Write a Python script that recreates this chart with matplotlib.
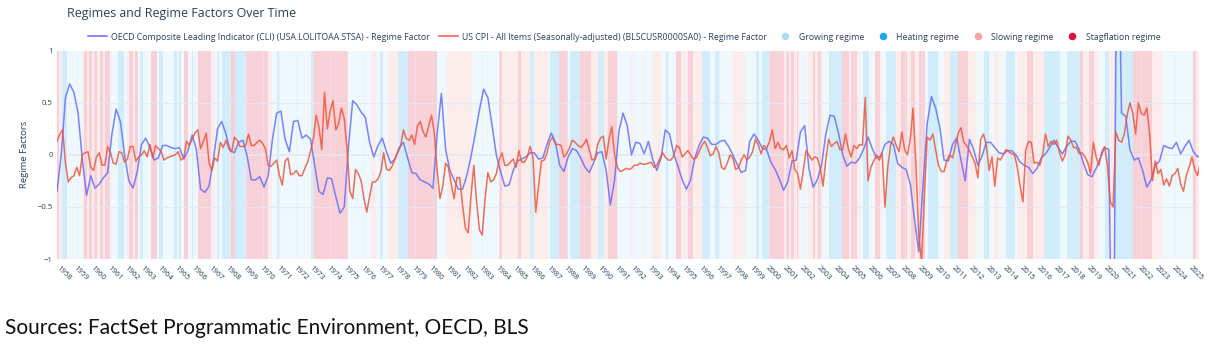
import matplotlib
matplotlib.use("Agg")
import matplotlib.pyplot as plt
from matplotlib.lines import Line2D
import numpy as np

plt.rcParams["font.family"] = ["Open Sans", "DejaVu Sans"]

# CLI regime factor, quarterly from Nov 1957
cli_values = [
    -0.35,
    0.0, 0.55, 0.68, 0.6,
    0.4, -0.05, -0.39, -0.2,
    -0.32, -0.28, -0.22, -0.17,
    0.2, 0.44, 0.32, 0.0,
    -0.25, -0.32, -0.16, 0.1,
    0.16, 0.07, -0.05, -0.03,
    0.09, 0.09, 0.07, 0.06,
    0.07, -0.04, 0.04, 0.19,
    0.05, -0.33, -0.36, -0.3,
    -0.05, 0.25, 0.32, 0.2,
    0.04, 0.02, 0.12, 0.14,
    -0.01, -0.24, -0.24, -0.21,
    -0.31, -0.2, 0.15, 0.4,
    0.42, 0.15, 0.03, 0.32,
    0.33, 0.16, 0.19, 0.15,
    -0.1, -0.35, -0.38, -0.22,
    -0.23, -0.4, -0.56, -0.5,
    0.08, 0.52, 0.48, 0.41,
    0.36, 0.12, -0.02, 0.09,
    0.16, 0.03, -0.08, -0.04,
    0.07, 0.12, -0.03, -0.17,
    -0.18, -0.24, -0.26, -0.28,
    -0.32, 0.2, 0.59, 0.05,
    -0.15, -0.24, -0.33, -0.33,
    -0.2, -0.02, 0.2, 0.43,
    0.63, 0.55, 0.28, 0.0,
    -0.16, -0.3, -0.29, -0.15,
    -0.06, -0.04, -0.02, 0.02,
    0.02, -0.04, -0.03, 0.1,
    0.21, 0.12, -0.1, -0.16,
    -0.02, 0.06, 0.04, -0.03,
    -0.12, -0.17, -0.08, 0.02,
    0.03, -0.15, -0.48, -0.24,
    0.22, 0.4, 0.28, 0.0,
    0.12, 0.11, 0.01, 0.13,
    -0.04, -0.15, -0.03, 0.24,
    0.2, 0.01, -0.11, -0.24,
    -0.33, -0.24, -0.03, 0.09,
    0.17, 0.16, 0.1, 0.1,
    0.13, 0.14, 0.08, 0.0,
    -0.09, -0.17, -0.15, 0.13,
    0.2, 0.14, 0.06, 0.05,
    -0.07, -0.14, -0.23, -0.34,
    -0.26, -0.06, -0.05, 0.22,
    0.28, -0.13, -0.31, -0.24,
    -0.1, 0.2, 0.38, 0.37,
    0.21, 0.0, -0.11, -0.07,
    -0.08, -0.03, 0.06, 0.17,
    0.06, -0.03, -0.01, 0.1,
    0.13, 0.1, -0.08, -0.12,
    -0.14, -0.28, -0.62, -0.93,
    -0.3, 0.3, 0.56, 0.45,
    0.26, -0.05, -0.06, 0.1,
    0.16, -0.05, -0.25, 0.15,
    0.05, -0.1, -0.01, 0.12,
    0.12, 0.07, 0.02, 0.01,
    0.04, 0.04, 0.0, -0.07,
    -0.1, -0.12, -0.18, -0.13,
    -0.03, 0.01, 0.07, 0.14,
    0.07, 0.01, 0.08, 0.13,
    0.13, 0.05, -0.08, -0.19,
    -0.21, -0.13, -0.03, 0.07,
    0.05, -3.0, 3.0, 0.4,
    0.37, 0.05, -0.05, -0.03,
    -0.15, -0.31, -0.24, -0.1,
    -0.06, 0.09, 0.07, 0.06,
    0.12, 0.01, 0.08, 0.14,
    0.03, -0.02, 0.0,
]

# CPI regime factor, every two months from Nov 1957
cpi_values = [
    0.13,
    0.2, 0.24, -0.08, -0.26, -0.22, -0.2,        # 1958
    -0.12, -0.2, 0.0, 0.02, 0.03, -0.12,         # 1959
    -0.15, -0.02, 0.02, -0.1, -0.1, 0.08,        # 1960
    0.02, -0.08, -0.09, 0.03, 0.02, -0.07,       # 1961
    -0.04, 0.08, 0.08, -0.06, -0.02, 0.0,        # 1962
    0.04, -0.02, 0.1, -0.03, 0.09, 0.06,         # 1963
    0.03, -0.05, -0.03, -0.02, -0.01, 0.0,       # 1964
    0.03, -0.05, -0.03, 0.13, 0.09, 0.15,        # 1965
    0.21, 0.24, 0.06, 0.13, 0.21, -0.08,         # 1966
    -0.15, -0.03, -0.06, 0.12, 0.07, 0.14,       # 1967
    0.06, 0.03, 0.17, 0.14, 0.08, 0.08,          # 1968
    0.09, 0.2, 0.09, 0.09, 0.12, 0.14,           # 1969
    0.11, 0.06, -0.1, -0.11, -0.08, -0.05,       # 1970
    -0.2, -0.29, -0.06, -0.03, -0.19, -0.18,     # 1971
    -0.15, -0.2, -0.2, -0.13, -0.07, 0.03,       # 1972
    0.15, 0.38, 0.27, 0.05, 0.6, 0.25,           # 1973
    0.42, 0.52, 0.24, 0.3, 0.45, 0.35,           # 1974
    0.05, -0.35, -0.42, -0.14, -0.18, -0.25,     # 1975
    -0.42, -0.55, -0.4, -0.26, -0.26, -0.23,     # 1976
    -0.16, 0.02, -0.14, -0.15, -0.11, -0.04,     # 1977
    0.02, 0.08, 0.24, 0.16, 0.14, 0.19,          # 1978
    0.1, 0.28, 0.32, 0.22, 0.17, 0.28,           # 1979
    0.38, 0.2, -0.15, -0.42, -0.3, -0.08,        # 1980
    -0.12, -0.28, -0.42, -0.22, -0.22, -0.48,    # 1981
    -0.7, -0.75, -0.4, -0.1, -0.45, -0.72,       # 1982
    -0.77, -0.42, -0.17, -0.26, -0.24, -0.18,    # 1983
    -0.05, 0.02, -0.1, -0.1, -0.07, -0.04,       # 1984
    -0.12, 0.04, -0.07, -0.07, -0.02, 0.08,      # 1985
    -0.02, -0.55, -0.3, -0.06, -0.05, 0.02,      # 1986
    0.13, 0.17, 0.1, 0.1, 0.09, -0.02,           # 1987
    0.01, 0.07, 0.14, 0.12, 0.09, 0.07,          # 1988
    0.1, 0.15, 0.05, -0.05, -0.04, 0.1,          # 1989
    0.16, 0.18, -0.04, 0.15, 0.27, 0.0,          # 1990
    -0.12, -0.16, -0.15, -0.13, -0.14, -0.13,    # 1991
    -0.1, -0.1, -0.08, -0.09, -0.09, -0.08,      # 1992
    -0.07, -0.12, -0.1, -0.04, 0.02, -0.02,      # 1993
    -0.05, -0.05, -0.01, 0.09, 0.07, -0.02,      # 1994
    0.01, 0.04, 0.0, -0.04, -0.03, 0.03,         # 1995
    0.09, 0.13, 0.07, -0.01, 0.01, 0.08,         # 1996
    0.02, -0.12, -0.14, -0.08, 0.0, -0.03,       # 1997
    -0.14, -0.12, -0.05, 0.0, -0.05, -0.02,      # 1998
    0.03, 0.15, 0.1, 0.01, 0.09, 0.06,           # 1999
    0.13, 0.24, 0.06, 0.12, 0.06, 0.05,          # 2000
    0.09, -0.03, 0.04, -0.14, -0.18, -0.33,      # 2001
    -0.15, 0.04, 0.0, -0.05, -0.02, -0.03,       # 2002
    -0.12, -0.3, -0.05, 0.15, 0.08, 0.11,        # 2003
    0.13, 0.05, 0.05, 0.2, 0.06, -0.02,          # 2004
    0.09, 0.06, 0.1, 0.09, 0.55, -0.25,          # 2005
    -0.12, -0.06, 0.0, -0.05, 0.02, -0.5,        # 2006
    -0.12, 0.09, 0.17, 0.09, 0.03, 0.22,         # 2007
    0.05, 0.0, 0.15, 0.45, -0.1, -0.78,          # 2008
    -1.02, -0.4, 0.17, 0.14, 0.2, 0.05,          # 2009
    -0.1, -0.16, -0.16, -0.05, 0.0, -0.03,       # 2010
    0.09, 0.21, 0.26, 0.12, 0.09, 0.04,          # 2011
    -0.02, -0.08, -0.22, 0.15, 0.2, 0.09,        # 2012
    -0.15, -0.02, -0.3, -0.03, -0.05, 0.0,       # 2013
    0.05, 0.03, 0.01, 0.0, -0.12, -0.3,          # 2014
    -0.45, 0.05, 0.13, 0.12, -0.08, -0.07,       # 2015
    -0.1, 0.0, 0.2, 0.08, 0.13, 0.1,             # 2016
    0.14, 0.02, -0.06, 0.0, 0.18, 0.14,          # 2017
    0.07, 0.07, 0.01, 0.02, -0.02, -0.07,        # 2018
    -0.18, 0.12, -0.02, -0.1, 0.03, 0.08,        # 2019
    -0.1, -0.45, -0.5, 0.22, 0.14, 0.12,         # 2020
    0.2, 0.38, 0.5, 0.4, 0.2, 0.5,               # 2021
    0.4, 0.38, 0.45, 0.2, -0.25, -0.06,          # 2022
    -0.18, -0.14, -0.29, -0.23, -0.3, -0.2,      # 2023
    -0.18, -0.13, -0.28, -0.35, -0.2, -0.12,     # 2024
    -0.02, -0.14, -0.2, -0.07,                   # 2025
]

# regime bands: start year and regime code (G growing, H heating, S slowing, X stagflation)
regime_starts = [
    1957.83, 1957.95, 1958.1, 1958.41, 1959.3, 1959.45, 1959.58, 1959.7, 1959.88, 1960.0,
    1960.2, 1960.38, 1960.55, 1960.7, 1960.98, 1961.47, 1961.77, 1961.96, 1962.08, 1962.33,
    1962.45, 1962.6, 1962.75, 1962.95, 1963.4, 1963.74, 1963.88, 1964.13, 1964.73, 1964.92,
    1965.06, 1965.18, 1965.32, 1965.57, 1965.81, 1965.91, 1966.15, 1966.95, 1967.19, 1967.3,
    1967.45, 1967.59, 1968.15, 1968.35, 1969.0, 1970.35, 1970.55, 1970.84, 1970.98, 1972.87,
    1973.0, 1975.07, 1976.44, 1976.73, 1976.93, 1977.1, 1977.4, 1978.0, 1978.58, 1980.32,
    1980.9, 1982.4, 1983.98, 1984.18, 1985.13, 1985.3, 1985.8, 1986.05, 1986.9, 1987.03,
    1987.56, 1988.08, 1988.2, 1988.77, 1989.45, 1989.87, 1990.22, 1990.46, 1990.95, 1991.8,
    1991.9, 1992.5, 1992.6, 1993.08, 1993.6, 1993.85, 1993.97, 1994.47, 1994.76, 1995.15,
    1995.45, 1995.98, 1996.48, 1996.77, 1997.03, 1997.83, 1998.55, 1999.22, 1999.37, 1999.55,
    1999.98, 2000.85, 2000.95, 2001.15, 2001.25, 2001.45, 2001.6, 2001.7, 2001.78, 2002.3,
    2002.55, 2002.7, 2002.9, 2003.05, 2003.15, 2003.5, 2004.3, 2004.7, 2004.85, 2005.2,
    2005.35, 2005.55, 2005.9, 2006.25, 2006.55, 2006.65, 2006.9, 2007.5, 2007.8, 2008.15,
    2008.35, 2008.6, 2008.85, 2009.2, 2009.4, 2010.0, 2010.3, 2010.68, 2011.15, 2011.72,
    2012.25, 2012.68, 2012.97, 2013.27, 2013.56, 2014.02, 2014.55, 2014.65, 2015.22, 2015.62,
    2016.25, 2017.2, 2017.58, 2018.35, 2018.56, 2018.9, 2019.18, 2019.45, 2019.84, 2020.12,
    2020.36, 2021.52, 2022.63, 2023.22, 2025.08, 2025.25, 2025.4,
]
regime_codes = [
    "X", "S", "H", "G", "S", "X", "S", "X", "S", "X",
    "S", "X", "S", "X", "G", "H", "G", "S", "X", "S",
    "X", "G", "H", "G", "X", "G", "H", "G", "H", "G",
    "H", "G", "X", "G", "H", "G", "X", "S", "G", "H",
    "G", "H", "X", "H", "X", "S", "G", "H", "G", "H",
    "X", "G", "S", "G", "H", "G", "S", "H", "X", "G",
    "S", "G", "X", "S", "X", "S", "H", "S", "G", "H",
    "X", "G", "H", "X", "S", "H", "S", "X", "G", "S",
    "G", "S", "G", "S", "G", "H", "G", "X", "S", "X",
    "S", "H", "G", "H", "G", "S", "G", "H", "G", "H",
    "X", "S", "X", "S", "X", "S", "X", "S", "G", "S",
    "X", "S", "X", "S", "G", "H", "X", "S", "X", "S",
    "G", "H", "G", "X", "S", "G", "H", "S", "X", "S",
    "X", "S", "X", "G", "H", "G", "S", "H", "X", "S",
    "G", "H", "G", "S", "G", "H", "G", "S", "X", "S",
    "H", "G", "H", "X", "S", "X", "S", "G", "H", "S",
    "H", "X", "S", "G", "X", "S", "G",
]
regime_end = 2025.5

regime_names = {
    "G": "Growing regime",
    "H": "Heating regime",
    "S": "Slowing regime",
    "X": "Stagflation regime",
}
regime_colors = {"G": "#aadcf5", "H": "#1aa7ee", "S": "#f7a0a0", "X": "#dc143c"}

tick_years = list(range(1958, 2026))

start = 1957 + 10 / 12
cli_t = start + 0.25 * np.arange(len(cli_values))
cpi_t = start + (2 / 12) * np.arange(len(cpi_values))

txt = "#2a3f5f"
fig = plt.figure(figsize=(12.17, 3.44), dpi=100)
ax = fig.add_axes([57 / 1217, 1 - 259 / 344, 1142 / 1217, 208.3 / 344])

ends = regime_starts[1:] + [regime_end]
for s, e, c in zip(regime_starts, ends, regime_codes):
    ax.axvspan(s, e, color=regime_colors[c], alpha=0.2, lw=0, zorder=0)

for yv in [-0.5, 0.5]:
    ax.axhline(yv, color="#e3e8f1", lw=0.8, alpha=0.8, zorder=1)
ax.axhline(0, color="#e3e8f1", lw=1.4, alpha=0.8, zorder=1)
for yr in tick_years:
    ax.axvline(yr, color="#e8edf5", lw=0.6, alpha=0.5, zorder=1)

ax.plot(cli_t, cli_values, color="#636efa", lw=1.1, alpha=0.85, zorder=3)
ax.plot(cpi_t, cpi_values, color="#ef553b", lw=1.1, alpha=0.85, zorder=4)

ax.set_xlim(start, 2025.42)
ax.set_ylim(-1, 1)
for sp in ax.spines.values():
    sp.set_visible(False)

ax.set_yticks([-1, -0.5, 0, 0.5, 1])
ax.set_yticklabels(["\u22121", "\u22120.5", "0", "0.5", "1"])
ax.set_xticks(tick_years)
ax.set_xticklabels([str(y) for y in tick_years], rotation=-45, ha="left", va="top",
                   rotation_mode="anchor")
ax.tick_params(axis="both", length=0, labelsize=5.6, labelcolor=txt)
ax.tick_params(axis="x", pad=4)
ax.tick_params(axis="y", pad=3)
ax.set_ylabel("Regime Factors", fontsize=6.8, color=txt, labelpad=6)

fig.text(67 / 1217, 1 - 14 / 344, "Regimes and Regime Factors Over Time",
         fontsize=8.9, color=txt, va="center", ha="left")

handles = [
    Line2D([], [], color="#636efa", lw=1.1),
    Line2D([], [], color="#ef553b", lw=1.1),
]
labels = [
    "OECD Composite Leading Indicator (CLI) (USA.LOLITOAA.STSA) - Regime Factor",
    "US CPI - All Items (Seasonally-adjusted) (BLSCUSR0000SA0) - Regime Factor",
]
for code in ["G", "H", "S", "X"]:
    handles.append(Line2D([], [], color=regime_colors[code], lw=0, marker="o", markersize=4.4))
    labels.append(regime_names[code])

fig.legend(handles, labels, loc="center left", bbox_to_anchor=(88 / 1217, 1 - 37 / 344),
           ncol=6, frameon=False, fontsize=6.3, handlelength=2.2, handletextpad=0.45,
           columnspacing=1.0, labelcolor=txt, borderaxespad=0, borderpad=0)

fig.text(5 / 1217, 1 - 328 / 344, "Sources: FactSet Programmatic Environment, OECD, BLS",
         fontsize=15, family="Lato", color="#111111", va="center", ha="left")

fig.savefig("out.png", dpi=100, facecolor="white")
